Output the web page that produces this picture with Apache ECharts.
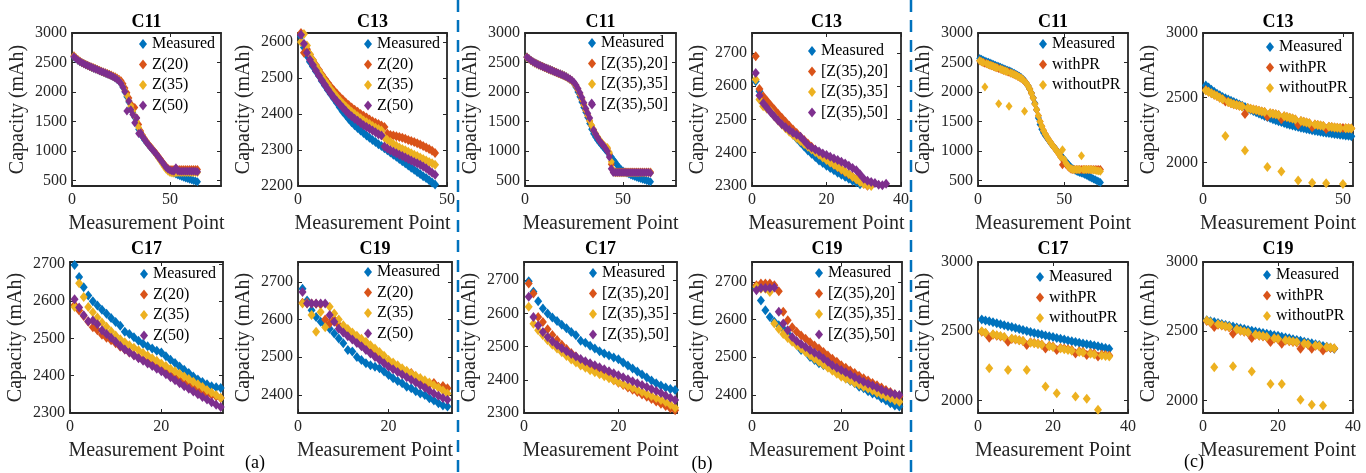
<!DOCTYPE html>
<html>
<head>
<meta charset="utf-8">
<script src="https://cdn.jsdelivr.net/npm/echarts@6/dist/echarts.min.js"></script>
<style>
html, body { margin: 0; padding: 0; background: #fff; }
#chart { width: 1366px; height: 473px; }
</style>
</head>
<body>
<div id="chart"></div>
<script>
// ---- measured capacity (shared by panels a and b), x = 1..N ----
const c11Measured = [2595, 2565, 2538, 2515, 2495, 2478, 2462, 2447, 2432, 2418,
  2404, 2390, 2376, 2362, 2348, 2334, 2320, 2306, 2292, 2276,
  2258, 2238, 2214, 2186, 2140, 2080, 2000, 1920, 1830, 1740,
  1660, 1570, 1470, 1370, 1295, 1240, 1190, 1145, 1105, 1065,
  1025, 985, 945, 900, 855, 810, 765, 725, 690, 665,
  645, 628, 612, 598, 584, 571, 558, 546, 535, 524,
  514, 504, 494, 484];
const c13Measured = [2615, 2585, 2562, 2545, 2532, 2519, 2506, 2492, 2479, 2467,
  2455, 2443, 2431, 2419, 2407, 2397, 2387, 2377, 2369, 2361,
  2354, 2347, 2340, 2334, 2328, 2322, 2316, 2311, 2305, 2299,
  2293, 2287, 2281, 2275, 2269, 2263, 2257, 2251, 2245, 2239,
  2233, 2227, 2222, 2216, 2210, 2204];
const c17Measured = [2697, 2665, 2637, 2615, 2600, 2588, 2577, 2566, 2555, 2544,
  2534, 2518, 2512, 2503, 2494, 2486, 2479, 2473, 2467, 2462,
  2452, 2443, 2434, 2425, 2416, 2407, 2398, 2390, 2383, 2377,
  2372, 2369, 2367];
const c19Measured = [2682, 2651, 2625, 2607, 2594, 2585, 2576, 2563, 2550, 2537,
  2519, 2515, 2501, 2493, 2484, 2479, 2475, 2471, 2462, 2453,
  2444, 2437, 2431, 2422, 2418, 2410, 2404, 2400, 2391, 2385,
  2378, 2372, 2369];

// ---- (a) Z(20), Z(35), Z(50) ----
const aC11Z20 = [2615, 2580, 2550, 2524, 2502, 2484, 2468, 2453, 2438, 2424,
  2410, 2396, 2382, 2368, 2354, 2340, 2327, 2314, 2301, 2288,
  2274, 2258, 2240, 2218, 2190, 2140, 2070, 1990, 1900, 1800,
  1710, 1740, 1560, 1450, 1340, 1270, 1215, 1165, 1120, 1080,
  1040, 1000, 960, 915, 870, 825, 780, 740, 705, 690,
  690, 690, 690, 690, 690, 690, 690, 690, 690, 690,
  690, 690, 690, 690];
const aC11Z35 = [2605, 2575, 2545, 2520, 2499, 2481, 2465, 2450, 2435, 2421,
  2407, 2393, 2379, 2365, 2351, 2337, 2323, 2309, 2295, 2280,
  2263, 2244, 2222, 2195, 2155, 2100, 2025, 1945, 1855, 1765,
  1680, 1590, 1500, 1400, 1320, 1260, 1205, 1155, 1110, 1070,
  1030, 985, 940, 890, 840, 790, 740, 695, 660, 640,
  630, 630, 635, 640, 640, 640, 640, 640, 640, 640,
  640, 640, 640, 640];
const aC11Z50 = [2600, 2570, 2540, 2516, 2496, 2479, 2463, 2448, 2433, 2419,
  2405, 2391, 2377, 2363, 2349, 2335, 2321, 2307, 2293, 2278,
  2260, 2240, 2216, 2188, 2145, 2085, 2010, 1680, 1850, 1700,
  1620, 1480, 1560, 1300, 1310, 1250, 1200, 1150, 1108, 1068,
  1028, 988, 948, 905, 860, 815, 770, 725, 695, 675,
  665, 660, 720, 665, 660, 660, 660, 660, 660, 660,
  660, 660, 660, 650];
const aC13Z20 = [2625, 2570, 2580, 2565, 2550, 2536, 2523, 2510, 2498, 2487,
  2476, 2466, 2457, 2448, 2440, 2432, 2425, 2418, 2412, 2406,
  2400, 2395, 2390, 2385, 2380, 2376, 2372, 2368, 2364, 2345,
  2342, 2340, 2338, 2336, 2334, 2331, 2328, 2325, 2322, 2319,
  2315, 2311, 2307, 2303, 2298, 2292];
const aC13Z35 = [2600, 2622, 2590, 2566, 2549, 2534, 2520, 2506, 2493, 2481,
  2469, 2458, 2448, 2438, 2429, 2421, 2413, 2406, 2400, 2394,
  2388, 2382, 2377, 2372, 2367, 2362, 2358, 2354, 2335, 2328,
  2322, 2317, 2312, 2307, 2303, 2299, 2295, 2291, 2287, 2283,
  2279, 2275, 2271, 2267, 2263, 2259];
const aC13Z50 = [2620, 2595, 2570, 2551, 2536, 2521, 2507, 2494, 2481, 2469,
  2457, 2446, 2436, 2427, 2418, 2409, 2401, 2394, 2387, 2381,
  2375, 2369, 2364, 2359, 2354, 2349, 2344, 2340, 2310, 2304,
  2299, 2295, 2291, 2287, 2283, 2279, 2275, 2271, 2267, 2263,
  2259, 2254, 2249, 2243, 2237, 2231];
const aC17Z20 = [2590, 2575, 2560, 2545, 2530, 2522, 2510, 2502, 2495, 2487,
  2478, 2470, 2462, 2455, 2449, 2443, 2437, 2431, 2424, 2418,
  2410, 2402, 2395, 2388, 2381, 2374, 2368, 2362, 2357, 2352,
  2348, 2344, 2340];
const aC17Z35 = [2584, 2648, 2611, 2584, 2570, 2556, 2543, 2531, 2519, 2508,
  2498, 2490, 2482, 2475, 2468, 2461, 2454, 2447, 2440, 2433,
  2426, 2419, 2412, 2405, 2398, 2391, 2384, 2377, 2370, 2362,
  2355, 2348, 2340];
const aC17Z50 = [2605, 2583, 2562, 2546, 2548, 2538, 2522, 2512, 2502, 2491,
  2480, 2470, 2462, 2454, 2447, 2440, 2433, 2426, 2419, 2412,
  2404, 2396, 2388, 2380, 2372, 2365, 2358, 2350, 2343, 2336,
  2329, 2322, 2316];
const aC19Z20 = [2645, 2645, 2643, 2642, 2640, 2600, 2590, 2600, 2585, 2574,
  2563, 2552, 2542, 2532, 2522, 2513, 2504, 2496, 2488, 2480,
  2472, 2465, 2458, 2451, 2458, 2445, 2438, 2432, 2428, 2432,
  2422, 2424, 2418];
const aC19Z35 = [2643, 2643, 2612, 2568, 2620, 2580, 2634, 2616, 2600, 2585,
  2575, 2566, 2557, 2549, 2541, 2532, 2523, 2514, 2504, 2493,
  2486, 2479, 2471, 2464, 2457, 2451, 2445, 2439, 2433, 2426,
  2419, 2412, 2404];
const aC19Z50 = [2673, 2643, 2643, 2643, 2643, 2643, 2612, 2594, 2576, 2566,
  2556, 2547, 2538, 2529, 2519, 2510, 2501, 2493, 2484, 2475,
  2468, 2461, 2454, 2447, 2440, 2433, 2426, 2419, 2411, 2404,
  2398, 2392, 2387];

// ---- (b) [Z(35),20], [Z(35),35], [Z(35),50] ----
const bC11Z20 = [2595, 2566, 2539, 2515, 2495, 2478, 2462, 2447, 2432, 2418,
  2404, 2390, 2376, 2362, 2348, 2334, 2320, 2306, 2292, 2277,
  2260, 2240, 2217, 2190, 2150, 2100, 2035, 1960, 1870, 1780,
  1690, 1600, 1510, 1430, 1350, 1290, 1235, 1185, 1140, 1100,
  1070, 1040, 950, 780, 650, 645, 645, 645, 645, 645,
  645, 645, 645, 645, 645, 645, 645, 645, 645, 645,
  645, 645, 645, 645];
const bC11Z35 = [2585, 2558, 2532, 2510, 2490, 2473, 2457, 2442, 2427, 2413,
  2399, 2385, 2371, 2357, 2343, 2329, 2315, 2301, 2287, 2272,
  2255, 2236, 2214, 2188, 2155, 2110, 2050, 1975, 1885, 1790,
  1700, 1610, 1520, 1440, 1365, 1300, 1245, 1195, 1150, 1110,
  1075, 1060, 980, 820, 680, 635, 635, 635, 635, 635,
  635, 635, 635, 635, 635, 635, 635, 635, 635, 635,
  635, 635, 635, 635];
const bC11Z50 = [2590, 2562, 2536, 2513, 2493, 2476, 2460, 2445, 2430, 2416,
  2402, 2388, 2374, 2360, 2346, 2332, 2318, 2304, 2290, 2275,
  2258, 2240, 2220, 2196, 2165, 2120, 2060, 1990, 1910, 1820,
  1720, 1640, 1560, 1815, 1360, 1290, 1230, 1175, 1135, 1095,
  1050, 1000, 900, 700, 640, 640, 640, 640, 640, 640,
  640, 640, 640, 640, 640, 640, 640, 640, 640, 640,
  640, 640, 640, 630];
const bC13Z20 = [2690, 2592, 2570, 2556, 2543, 2530, 2517, 2505, 2493, 2481,
  2470, 2459, 2448, 2438, 2428, 2418, 2408, 2399, 2390, 2381,
  2373, 2365, 2357, 2349, 2342, 2335, 2328, 2321, 2314, 2307,
  2301];
const bC13Z35 = [2620, 2560, 2540, 2532, 2525, 2510, 2497, 2485, 2474, 2463,
  2453, 2444, 2435, 2426, 2418, 2410, 2402, 2394, 2386, 2378,
  2371, 2364, 2357, 2350, 2343, 2336, 2328, 2320, 2312, 2306,
  2302, 2300];
const bC13Z50 = [2640, 2572, 2549, 2535, 2522, 2509, 2497, 2486, 2477, 2468,
  2460, 2454, 2448, 2436, 2423, 2416, 2410, 2404, 2398, 2393,
  2388, 2383, 2378, 2373, 2368, 2361, 2354, 2347, 2335, 2322,
  2316, 2312, 2309, 2304, 2302, 2307];
const bC17Z20 = [2690, 2660, 2589, 2574, 2552, 2535, 2520, 2506, 2493, 2481,
  2470, 2459, 2449, 2440, 2431, 2423, 2415, 2407, 2399, 2391,
  2384, 2377, 2370, 2363, 2356, 2349, 2342, 2335, 2328, 2321,
  2314, 2308, 2303];
const bC17Z35 = [2620, 2569, 2549, 2534, 2519, 2506, 2494, 2483, 2472, 2461,
  2452, 2443, 2436, 2429, 2423, 2417, 2411, 2405, 2399, 2393,
  2387, 2381, 2375, 2369, 2363, 2357, 2351, 2345, 2339, 2333,
  2325, 2316, 2310];
const bC17Z50 = [2650, 2589, 2564, 2544, 2529, 2516, 2505, 2495, 2486, 2478,
  2470, 2463, 2456, 2450, 2444, 2438, 2432, 2426, 2420, 2414,
  2408, 2402, 2396, 2390, 2384, 2378, 2372, 2366, 2360, 2353,
  2346, 2339, 2333];
const bC19Z20 = [2691, 2696, 2696, 2696, 2691, 2675, 2621, 2598, 2580, 2568,
  2558, 2549, 2540, 2531, 2523, 2514, 2505, 2496, 2488, 2479,
  2472, 2465, 2458, 2451, 2444, 2438, 2432, 2426, 2420, 2413,
  2408, 2402, 2396];
const bC19Z35 = [2687, 2682, 2682, 2673, 2590, 2575, 2562, 2551, 2541, 2532,
  2523, 2514, 2505, 2496, 2488, 2480, 2472, 2464, 2456, 2448,
  2443, 2438, 2432, 2427, 2422, 2417, 2412, 2406, 2401, 2396,
  2391, 2386, 2382];
const bC19Z50 = [2678, 2684, 2684, 2684, 2685, 2621, 2590, 2572, 2554, 2543,
  2535, 2527, 2519, 2512, 2506, 2497, 2488, 2479, 2472, 2466,
  2460, 2454, 2447, 2441, 2435, 2430, 2425, 2420, 2414, 2409,
  2405, 2402, 2400];

// ---- (c) Measured / withPR / withoutPR ----
const cC11Measured = [2570, 2555, 2540, 2527, 2515, 2503, 2491, 2479, 2467, 2455,
  2443, 2431, 2419, 2407, 2395, 2383, 2371, 2359, 2347, 2333,
  2318, 2302, 2285, 2266, 2245, 2220, 2190, 2150, 2105, 2050,
  1985, 1905, 1810, 1700, 1560, 1450, 1370, 1310, 1265, 1225,
  1185, 1145, 1105, 1070, 1035, 1000, 965, 930, 895, 860,
  825, 790, 755, 725, 700, 680, 665, 652, 640, 630,
  620, 605, 590, 575, 560, 545, 530, 515, 500, 485,
  470];
const cC11WithPR = [2530, 2515, 2502, 2490, 2478, 2466, 2455, 2444, 2433, 2422,
  2411, 2400, 2389, 2378, 2367, 2356, 2345, 2334, 2322, 2310,
  2297, 2283, 2268, 2252, 2234, 2212, 2185, 2150, 2105, 2050,
  1980, 1900, 1800, 1700, 1600, 1500, 1420, 1350, 1290, 1240,
  1195, 1150, 1110, 1070, 1030, 990, 950, 900, 770, 820,
  780, 745, 715, 695, 690, 690, 690, 690, 690, 690,
  690, 690, 690, 690, 690, 690, 690, 690, 690, 690,
  690];
const cC11WithoutPR = [2530, 2515, 2502, 2086, 2478, 2466, 2455, 2444, 2433, 2422,
  2411, 1804, 2389, 2378, 2367, 2356, 2345, 1758, 2322, 2310,
  2297, 2283, 2268, 2252, 2234, 2212, 1674, 2150, 2105, 2050,
  1980, 1900, 1800, 1700, 1600, 1500, 1420, 1350, 1290, 1240,
  1195, 1150, 1110, 1070, 1030, 990, 950, 900, 1025, 860,
  800, 755, 720, 700, 690, 690, 690, 690, 690, 923,
  690, 690, 690, 690, 690, 685, 680, 675, 670, 665,
  660];
const cC13Measured = [2595, 2578, 2562, 2546, 2531, 2518, 2506, 2495, 2486, 2477,
  2467, 2457, 2447, 2437, 2427, 2417, 2407, 2397, 2387, 2377,
  2368, 2359, 2350, 2342, 2334, 2326, 2318, 2311, 2304, 2297,
  2291, 2285, 2279, 2273, 2268, 2263, 2258, 2253, 2248, 2244,
  2240, 2236, 2232, 2229, 2226, 2223, 2220, 2217, 2214, 2211,
  2208, 2205, 2202];
const cC13WithPR = [2560, 2546, 2534, 2523, 2512, 2500, 2488, 2470, 2466, 2457,
  2450, 2443, 2437, 2431, 2373, 2420, 2414, 2409, 2404, 2399,
  2394, 2389, 2355, 2380, 2376, 2371, 2366, 2334, 2356, 2350,
  2344, 2338, 2332, 2290, 2320, 2314, 2308, 2302, 2272, 2292,
  2288, 2284, 2280, 2258, 2276, 2273, 2270, 2268, 2266, 2265,
  2264, 2263, 2262];
const cC13WithoutPR = [2556, 2546, 2534, 2523, 2512, 2500, 2488, 2204, 2466, 2457,
  2450, 2443, 2437, 2431, 2091, 2420, 2414, 2409, 2404, 2399,
  2394, 2389, 1963, 2380, 2376, 2371, 2366, 1930, 2356, 2350,
  2344, 2338, 2332, 1859, 2320, 2314, 2308, 2302, 1843, 2292,
  2288, 2284, 2280, 1838, 2276, 2273, 2270, 2268, 2266, 1833,
  2264, 2263, 2262];
const cC17Measured = [2585, 2578, 2572, 2565, 2558, 2551, 2544, 2537, 2530, 2523,
  2516, 2509, 2502, 2495, 2488, 2482, 2476, 2470, 2464, 2458,
  2452, 2446, 2440, 2434, 2428, 2422, 2417, 2412, 2407, 2402,
  2397, 2391, 2385, 2379, 2373];
const cC17WithPR = [2496, 2488, 2453, 2474, 2468, 2462, 2456, 2424, 2445, 2440,
  2435, 2430, 2400, 2420, 2415, 2410, 2405, 2376, 2395, 2390,
  2364, 2380, 2375, 2370, 2365, 2340, 2356, 2352, 2329, 2344,
  2340, 2317, 2332, 2328, 2325];
const cC17WithoutPR = [2500, 2490, 2233, 2478, 2472, 2465, 2458, 2221, 2447, 2442,
  2436, 2430, 2221, 2418, 2413, 2408, 2402, 2101, 2391, 2386,
  2053, 2375, 2370, 2365, 2360, 2029, 2350, 2346, 2012, 2337,
  2333, 1933, 2325, 2321, 2318];
const cC19Measured = [2580, 2573, 2566, 2559, 2552, 2546, 2540, 2534, 2528, 2522,
  2516, 2510, 2504, 2498, 2492, 2487, 2482, 2477, 2472, 2467,
  2461, 2455, 2449, 2443, 2437, 2431, 2425, 2419, 2413, 2407,
  2400, 2394, 2388, 2381, 2374];
const cC19WithPR = [2575, 2562, 2530, 2547, 2541, 2534, 2527, 2482, 2512, 2503,
  2496, 2489, 2451, 2474, 2467, 2462, 2457, 2422, 2447, 2443,
  2410, 2433, 2428, 2423, 2419, 2373, 2409, 2403, 2373, 2395,
  2391, 2361, 2383, 2379, 2375];
const cC19WithoutPR = [2578, 2565, 2241, 2550, 2544, 2537, 2530, 2248, 2515, 2506,
  2499, 2492, 2210, 2477, 2470, 2465, 2460, 2120, 2450, 2446,
  2120, 2436, 2431, 2426, 2422, 2005, 2412, 2406, 1969, 2398,
  2394, 1964, 2386, 2382, 2378];

// ---- tick labels ----
const xTicks50 = [0, 50];
const xTicks20 = [0, 20];
const xTicks40 = [0, 20, 40];
const yTicksWide = [500, 1000, 1500, 2000, 2500, 3000];
const yTicksC13a = [2200, 2300, 2400, 2500, 2600];
const yTicks2300 = [2300, 2400, 2500, 2600, 2700];
const yTicks2400 = [2400, 2500, 2600, 2700];
const yTicks500 = [2000, 2500, 3000];

const BLUE = '#0072BD', ORANGE = '#D95319', YELLOW = '#EDB120', PURPLE = '#7E2F8E';
const AXIS = '#262626';
const SERIF = 'Liberation Serif';

const setA = (m, z20, z35, z50) => [['Measured', m, BLUE], ['Z(20)', z20, ORANGE], ['Z(35)', z35, YELLOW], ['Z(50)', z50, PURPLE]];
const setB = (m, z20, z35, z50) => [['Measured', m, BLUE], ['[Z(35),20]', z20, ORANGE], ['[Z(35),35]', z35, YELLOW], ['[Z(35),50]', z50, PURPLE]];
const setC = (m, w, wo) => [['Measured', m, BLUE], ['withPR', w, ORANGE], ['withoutPR', wo, YELLOW]];

// box: [left, top, width, height]; legend: [left, top]
const panels = [
  {title: 'C11', box: [72, 33, 149, 153], xMax: 76, yMin: 410, yMax: 3000, xt: xTicks50, yt: yTicksWide, legend: [139, 36], sym: [7, 9], set: setA(c11Measured, aC11Z20, aC11Z35, aC11Z50)},
  {title: 'C13', box: [298, 33, 149, 153], xMax: 50, yMin: 2200, yMax: 2625, xt: xTicks50, yt: yTicksC13a, legend: [364, 36], sym: [8, 10], set: setA(c13Measured, aC13Z20, aC13Z35, aC13Z50)},
  {title: 'C11', box: [525, 33, 151, 153], xMax: 77, yMin: 410, yMax: 3000, xt: xTicks50, yt: yTicksWide, legend: [588, 35], sym: [7, 9], set: setB(c11Measured, bC11Z20, bC11Z35, bC11Z50)},
  {title: 'C13', box: [752, 33, 149, 153], xMax: 40, yMin: 2300, yMax: 2760, xt: xTicks40, yt: yTicks2300, legend: [808, 43], sym: [8, 10], set: setB(c13Measured, bC13Z20, bC13Z35, bC13Z50)},
  {title: 'C11', box: [978, 33, 150, 153], xMax: 87, yMin: 410, yMax: 3000, xt: xTicks50, yt: yTicksWide, legend: [1039, 36], sym: [7, 9], set: setC(cC11Measured, cC11WithPR, cC11WithoutPR)},
  {title: 'C13', box: [1203, 33, 150, 153], xMax: 53.6, yMin: 1817, yMax: 3000, xt: xTicks50, yt: yTicks500, legend: [1266, 39], sym: [8, 10], set: setC(cC13Measured, cC13WithPR, cC13WithoutPR)},
  {title: 'C17', box: [70, 262, 153, 151], xMax: 33.5, yMin: 2300, yMax: 2705, xt: xTicks20, yt: yTicks2300, legend: [140, 266], sym: [8, 10], set: setA(c17Measured, aC17Z20, aC17Z35, aC17Z50)},
  {title: 'C19', box: [298, 262, 154, 151], xMax: 34, yMin: 2352, yMax: 2753, xt: xTicks20, yt: yTicks2400, legend: [364, 264], sym: [8, 10], set: setA(c19Measured, aC19Z20, aC19Z35, aC19Z50)},
  {title: 'C17', box: [524, 262, 153, 151], xMax: 32.4, yMin: 2300, yMax: 2755, xt: xTicks20, yt: yTicks2300, legend: [589, 265], sym: [8, 10], set: setB(c17Measured, bC17Z20, bC17Z35, bC17Z50)},
  {title: 'C19', box: [752, 262, 150, 151], xMax: 33.6, yMin: 2352, yMax: 2753, xt: xTicks20, yt: yTicks2400, legend: [815, 265], sym: [8, 10], set: setB(c19Measured, bC19Z20, bC19Z35, bC19Z50)},
  {title: 'C17', box: [978, 262, 150, 151], xMax: 40, yMin: 1910, yMax: 3000, xt: xTicks40, yt: yTicks500, legend: [1036, 269], sym: [8, 10], set: setC(cC17Measured, cC17WithPR, cC17WithoutPR)},
  {title: 'C19', box: [1203, 262, 150, 151], xMax: 40, yMin: 1910, yMax: 3000, xt: xTicks40, yt: yTicks500, legend: [1263, 267], sym: [8, 10], set: setC(cC19Measured, cC19WithPR, cC19WithoutPR)}
];

const toPoints = arr => arr.map((v, i) => [i + 1, v]);
const plain = v => String(v);

const grid = [], xAxis = [], yAxis = [], series = [], title = [], legend = [];
const lineStyle = {color: AXIS, width: 1.8};
const tick = vals => ({show: true, inside: true, length: 4, customValues: vals, lineStyle: {color: AXIS, width: 1}});
const labelStyle = {fontFamily: SERIF, fontSize: 16, color: AXIS};
const nameStyle = {fontFamily: SERIF, fontSize: 20, color: AXIS};

panels.forEach((p, i) => {
  const [left, top, width, height] = p.box;
  grid.push({left, top, width, height, containLabel: false});

  xAxis.push({
    type: 'value', gridIndex: i, position: 'bottom', min: 0, max: p.xMax,
    axisLine: {show: true, onZero: false, lineStyle},
    axisTick: tick(p.xt), splitLine: {show: false},
    axisLabel: Object.assign({customValues: p.xt, margin: 6, formatter: plain}, labelStyle),
    name: 'Measurement Point', nameLocation: 'middle', nameGap: 28,
    nameTextStyle: nameStyle
  });
  xAxis.push({
    type: 'value', gridIndex: i, position: 'top', min: 0, max: p.xMax,
    axisLine: {show: true, onZero: false, lineStyle},
    axisTick: tick(p.xt), axisLabel: {show: false}, splitLine: {show: false}
  });
  yAxis.push({
    type: 'value', gridIndex: i, position: 'left', min: p.yMin, max: p.yMax,
    axisLine: {show: true, onZero: false, lineStyle},
    axisTick: tick(p.yt), splitLine: {show: false},
    axisLabel: Object.assign({customValues: p.yt, margin: 5, formatter: plain}, labelStyle),
    name: 'Capacity (mAh)', nameLocation: 'middle', nameGap: 44,
    nameTextStyle: nameStyle
  });
  yAxis.push({
    type: 'value', gridIndex: i, position: 'right', min: p.yMin, max: p.yMax,
    axisLine: {show: true, onZero: false, lineStyle},
    axisTick: tick(p.yt), axisLabel: {show: false}, splitLine: {show: false}
  });

  title.push({
    text: p.title, left: left + width / 2, top: top < 100 ? 13 : 240,
    textAlign: 'center', padding: 0,
    textStyle: {fontFamily: SERIF, fontSize: 18, fontWeight: 'bold', color: '#000'}
  });

  legend.push({
    left: p.legend[0], top: p.legend[1], orient: 'vertical', padding: 0,
    itemWidth: 8, itemHeight: 10, itemGap: 4.5, icon: 'diamond', selectedMode: false,
    textStyle: {fontFamily: SERIF, fontSize: 16, color: '#000', lineHeight: 16},
    data: p.set.map(s => s[0])
  });

  p.set.forEach(([name, values, color]) => {
    series.push({
      type: 'scatter', name, xAxisIndex: 2 * i, yAxisIndex: 2 * i,
      symbol: 'diamond', symbolSize: p.sym, clip: true, silent: true,
      itemStyle: {color, opacity: 1},
      data: toPoints(values)
    });
  });
});

const sepStyle = {stroke: BLUE, lineWidth: 2.5, lineDash: [12, 8]};
const tagFont = {font: '18px "Liberation Serif"', fill: '#000', align: 'center', verticalAlign: 'middle', textAlign: 'center', textVerticalAlign: 'middle'};
const graphic = [
  {type: 'line', shape: {x1: 458, y1: 0, x2: 458, y2: 473}, style: sepStyle, silent: true},
  {type: 'line', shape: {x1: 911, y1: 0, x2: 911, y2: 473}, style: sepStyle, silent: true},
  {type: 'text', x: 255, y: 463, style: Object.assign({text: '(a)'}, tagFont)},
  {type: 'text', x: 702, y: 464, style: Object.assign({text: '(b)'}, tagFont)},
  {type: 'text', x: 1194, y: 462, style: Object.assign({text: '(c)'}, tagFont)}
];

const chart = echarts.init(document.getElementById('chart'));
chart.setOption({
  backgroundColor: '#fff',
  animation: false,
  textStyle: {fontFamily: SERIF},
  grid, xAxis, yAxis, series, title, legend, graphic
});
</script>
</body>
</html>
